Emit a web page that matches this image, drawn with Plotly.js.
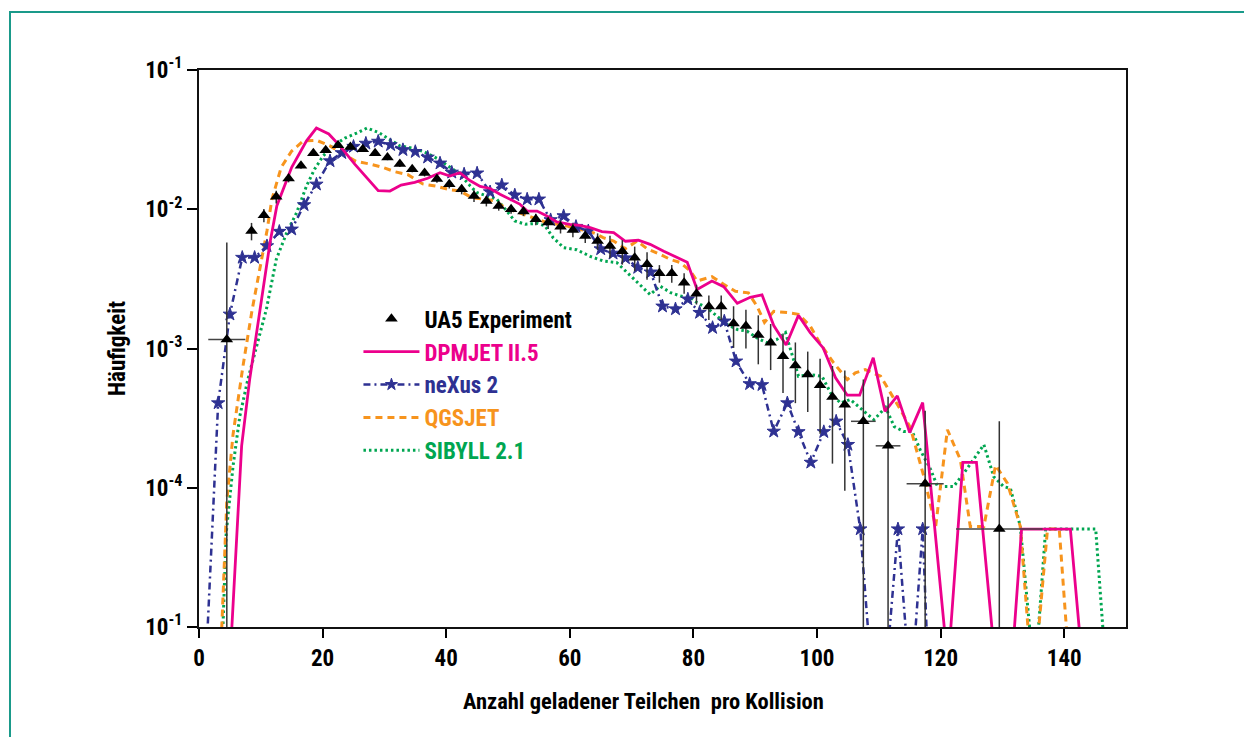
<!DOCTYPE html>
<html>
<head>
<meta charset="utf-8">
<script src="https://cdn.plot.ly/plotly-3.0.1.min.js"></script>
<style>
html,body{margin:0;padding:0;background:#fff;overflow:hidden;width:1244px;height:737px;}
#frame{position:absolute;left:9px;top:11px;width:1400px;height:900px;border:2px solid #1a9a8a;pointer-events:none;z-index:5;}
#chart{position:absolute;left:0;top:0;width:1244px;height:737px;}
</style>
</head>
<body>
<div id="chart"></div>
<div id="frame"></div>
<script>
// ---- tick labels ----
const xTickVals = [0, 20, 40, 60, 80, 100, 120, 140];
const yTickVals = [1e-1, 1e-2, 1e-3, 1e-4, 1e-5];
const yTickText = ['10<sup>-1</sup>', '10<sup>-2</sup>', '10<sup>-3</sup>', '10<sup>-4</sup>', '10<sup>-1</sup>'];
const xTitle = 'Anzahl geladener Teilchen&nbsp; pro Kollision';
const yTitle = 'Häufigkeit';

// ---- UA5 experiment ----
const ua5X = [4.5,8.5,10.5,12.5,14.5,16.5,18.5,20.5,22.5,24.5,26.5,28.5,30.5,32.5,34.5,36.5,38.5,40.5,42.5,44.5,46.5,48.5,50.5,52.5,54.5,56.5,58.5,60.5,62.5,64.5,66.5,68.5,70.5,72.5,74.5,76.5,78.5,80.5,82.5,84.5,86.5,88.5,90.5,92.5,94.5,96.5,98.5,100.5,102.5,104.5,107.5,111.5,117.5,129.5];
const ua5Y = [1.16e-3,6.98e-3,9.06e-3,0.0123,0.0166,0.0205,0.0252,0.0265,0.0288,0.028,0.027,0.0252,0.0235,0.0211,0.0194,0.0182,0.0165,0.0151,0.0139,0.01247,0.01148,0.01057,0.01,0.00962,0.00848,0.00802,0.0075,0.0071,0.00643,0.00591,0.00544,0.005,0.00449,0.00402,0.00347,0.00347,0.00297,0.00247,0.002,0.002,0.00151,0.00145,0.00125,0.0011,0.00088,0.000755,0.00065,0.000544,0.000449,0.000395,0.0003,0.0002,0.000107,5.05e-5];
const ua5YErr = [4.6e-3,1.0e-3,1.0e-3,1.3e-3,1e-3,1e-3,1e-3,1e-3,1e-3,1e-3,1e-3,1e-3,1e-3,1e-3,1e-3,1e-3,1e-3,1e-3,1.1e-3,1.2e-3,1e-3,8e-4,7e-4,7e-4,8e-4,8e-4,8e-4,8e-4,7e-4,8e-4,1e-3,1e-3,9e-4,9e-4,5e-4,5e-4,5e-4,4e-4,4e-4,4e-4,5e-4,4.5e-4,4.8e-4,4e-4,4e-4,3.5e-4,3e-4,3e-4,3e-4,3e-4,3e-4,2.5e-4,2.5e-4,2.5e-4];
const ua5XErr = [3,0,0,0,0,0,0,0,0,0,0,0,0,0,0,0,0,0,0,0,0,0,0,0,0,0,0,0,0,0,0,0,0,0,0,0,0,0,0,0,0,0,0,0,0,0,0,0,0,0,2,2,3,7];

// ---- DPMJET II.5 ----
const dpmX = [5.2,6.1,6.9,8.2,10.1,11.5,12.6,15.0,17.4,19.0,21.0,22.8,25.2,27.1,29.0,30.9,32.7,34.9,37.0,39.0,40.6,42.2,43.9,45.5,47.1,48.7,50.3,51.9,53.1,54.7,56.3,57.9,60.0,61.6,63.3,65.2,67.1,69.0,71.1,73.0,75.2,77.3,79.0,80.6,83.0,84.9,87.1,89.2,91.1,93.0,95.0,97.0,98.9,101.0,103.0,104.9,106.9,109.1,111.0,113.0,115.0,117.1,120.8,121.5,123.6,125.8,128.5,131.8,133.1,141.0,142.6];
const dpmY = [8e-6,4.7e-5,2.0e-4,6.0e-4,2.25e-3,5.8e-3,1.06e-2,2.0e-2,3.1e-2,3.83e-2,3.47e-2,2.85e-2,2.11e-2,1.69e-2,1.36e-2,1.35e-2,1.49e-2,1.56e-2,1.67e-2,1.83e-2,1.73e-2,1.83e-2,1.60e-2,1.46e-2,1.41e-2,1.28e-2,1.18e-2,1.09e-2,9.7e-3,9.7e-3,8.95e-3,8.1e-3,7.8e-3,7.67e-3,7.38e-3,6.91e-3,6.8e-3,5.89e-3,5.99e-3,5.6e-3,5.0e-3,4.49e-3,4.16e-3,2.65e-3,3.05e-3,2.78e-3,2.11e-3,2.33e-3,2.43e-3,1.46e-3,1.06e-3,1.73e-3,1.30e-3,1.01e-3,6.15e-4,4.62e-4,4.62e-4,8.57e-4,3.54e-4,4.57e-4,2.49e-4,4.09e-4,8e-6,8e-6,1.52e-4,1.52e-4,8e-6,8e-6,5.05e-5,5.05e-5,8e-6];

// ---- neXus 2 ----
const nexX = [1.3,3.1,5.0,7.0,9.0,11.0,13.0,15.0,17.0,19.0,21.2,23.1,25.0,27.0,29.0,31.0,33.0,35.0,37.0,39.0,40.9,42.9,45.0,47.1,49.0,51.1,53.1,55.0,56.9,59.0,61.0,63.0,65.0,67.0,69.0,71.0,73.1,75.0,77.1,79.1,81.0,83.1,85.0,86.9,89.1,91.1,93.0,95.2,97.0,99.0,101.1,103.1,105.0,107.0,108.4,111.6,113.1,114.5,115.8,117.1,117.8];
const nexY = [8e-6,4.06e-4,1.76e-3,4.5e-3,4.5e-3,5.45e-3,6.92e-3,7.18e-3,1.074e-2,1.51e-2,2.22e-2,2.54e-2,2.82e-2,2.97e-2,3.07e-2,2.9e-2,2.67e-2,2.59e-2,2.36e-2,2.14e-2,1.84e-2,1.786e-2,1.815e-2,1.33e-2,1.49e-2,1.262e-2,1.18e-2,1.18e-2,8.38e-3,8.95e-3,7.51e-3,6.98e-3,5.18e-3,4.82e-3,4.46e-3,3.81e-3,3.53e-3,2.01e-3,1.92e-3,2.26e-3,1.81e-3,1.41e-3,1.57e-3,8.1e-4,5.57e-4,5.48e-4,2.54e-4,4.06e-4,2.52e-4,1.52e-4,2.52e-4,3.0e-4,2.04e-4,5.05e-5,8e-6,8e-6,5.05e-5,8e-6,8e-6,5.05e-5,8e-6];

// ---- QGSJET ----
const qgsX = [3.6,4.0,4.5,5.5,7.1,8.6,10.0,11.0,11.8,13.3,15.0,16.9,19.0,21.2,23.3,25.4,27.7,29.7,31.7,33.8,36.2,38.5,40.6,42.2,44.1,46.0,47.9,49.5,51.4,53.0,54.7,56.3,57.9,59.5,61.1,62.8,64.4,65.4,67.1,69.0,70.9,72.5,74.6,76.3,77.9,79.5,80.6,83.0,84.9,86.8,88.9,90.3,91.5,93.0,95.2,97.0,98.9,100.6,102.7,104.9,106.2,107.8,110.3,111.9,113.5,115.1,117.3,119.2,121.1,123.2,124.8,127.0,128.9,130.8,132.9,134.3,135.7,137.3,139.2,140.5];
const qgsY = [8e-6,2.5e-5,8e-5,2.4e-4,7.4e-4,1.9e-3,4.0e-3,7.0e-3,1.18e-2,2.0e-2,2.62e-2,3.1e-2,3.13e-2,2.85e-2,2.49e-2,2.21e-2,2.11e-2,2.0e-2,1.86e-2,1.77e-2,1.52e-2,1.46e-2,1.38e-2,1.355e-2,1.214e-2,1.18e-2,1.148e-2,1.028e-2,9.57e-3,8.95e-3,8.48e-3,8.02e-3,7.8e-3,7.59e-3,7.18e-3,7.06e-3,6.6e-3,6.25e-3,5.91e-3,5.21e-3,5.91e-3,5.21e-3,4.74e-3,4.36e-3,4.14e-3,3.6e-3,3.05e-3,3.28e-3,2.89e-3,2.58e-3,2.51e-3,2.01e-3,1.54e-3,1.85e-3,1.81e-3,1.76e-3,1.45e-3,1.07e-3,7.88e-4,5.98e-4,6.68e-4,7.06e-4,6.32e-4,4.8e-4,3.64e-4,2.7e-4,1.2e-4,5.27e-5,2.61e-4,1.59e-4,5.27e-5,5.27e-5,1.45e-4,1.08e-4,5.27e-5,8e-6,8e-6,5.05e-5,5.05e-5,8e-6];

// ---- SIBYLL 2.1 ----
const sibX = [3.8,4.4,5.5,6.6,7.9,9.3,10.9,12.5,14.2,15.8,17.4,18.7,20.1,21.7,23.6,25.5,27.2,29.1,30.7,32.5,34.5,36.4,38.5,40.3,42.0,43.9,44.9,46.6,48.2,49.8,51.1,52.8,54.7,56.0,57.3,59.0,61.1,63.3,65.4,67.6,69.2,70.9,73.0,74.6,76.3,77.9,79.5,80.6,82.2,83.8,85.4,87.1,88.7,90.3,91.9,93.5,94.9,96.2,97.0,98.9,100.8,102.2,103.8,105.4,107.3,109.2,111.1,112.5,114.0,115.4,116.7,118.4,119.5,122.1,123.8,127.0,128.6,130.2,131.3,132.9,134.6,135.7,137.0,145.1,146.4];
const sibY = [8e-6,4.7e-5,1.42e-4,3.26e-4,5.98e-4,1.04e-3,1.91e-3,4.36e-3,6.79e-3,9.46e-3,1.47e-2,1.94e-2,2.42e-2,2.85e-2,3.24e-2,3.52e-2,3.83e-2,3.55e-2,3.19e-2,2.85e-2,2.75e-2,2.59e-2,2.32e-2,2.05e-2,1.82e-2,1.47e-2,1.32e-2,1.247e-2,1.18e-2,9.72e-3,8.24e-3,7.8e-3,7.93e-3,7.59e-3,6.25e-3,5.3e-3,5.12e-3,4.59e-3,4.25e-3,4.14e-3,3.55e-3,2.97e-3,2.44e-3,2.81e-3,2.52e-3,2.38e-3,2.32e-3,2.13e-3,1.96e-3,1.71e-3,1.49e-3,1.37e-3,1.33e-3,1.19e-3,1.10e-3,1.16e-3,1.30e-3,8.34e-4,6.32e-4,6.5e-4,6.32e-4,4.8e-4,4.06e-4,4.3e-4,3.64e-4,3.08e-4,3.77e-4,2.75e-4,2.54e-4,2.54e-4,1.87e-4,1.35e-4,1.02e-4,1.02e-4,1.28e-4,2.04e-4,1.2e-4,1.02e-4,9.9e-5,5.27e-5,8e-6,8e-6,5.05e-5,5.05e-5,8e-6];

const FONT = 'Roboto Condensed, Open Sans Condensed, Liberation Sans Narrow, sans-serif';
const C_DPM = '#ec008c', C_NEX = '#2e3192', C_QGS = '#f7941d', C_SIB = '#00a651';

const traces = [
  {x: sibX, y: sibY, mode: 'lines', name: '<span style="color:' + C_SIB + '">SIBYLL 2.1</span>',
   line: {color: C_SIB, width: 3, dash: '2.5px,3px'}, legendrank: 5},
  {x: qgsX, y: qgsY, mode: 'lines', name: '<span style="color:' + C_QGS + '">QGSJET</span>',
   line: {color: C_QGS, width: 3, dash: '7px,5px'}, legendrank: 4},
  {x: nexX, y: nexY, mode: 'lines+markers', name: '<span style="color:' + C_NEX + '">neXus 2</span>',
   line: {color: C_NEX, width: 2.5, dash: '7px,4px,2px,4px'},
   marker: {symbol: 'star', color: C_NEX, opacity: 1, size: nexY.map(v => v < 1e-5 ? 0 : 10),
            line: {width: 1, color: C_NEX}},
   legendrank: 3},
  {x: dpmX, y: dpmY, mode: 'lines', name: '<span style="color:' + C_DPM + '">DPMJET II.5</span>',
   line: {color: C_DPM, width: 2.8}, legendrank: 2},
  {x: ua5X, y: ua5Y, mode: 'markers', name: 'UA5 Experiment',
   marker: {symbol: 'triangle-up', color: '#000', size: 11},
   error_y: {type: 'data', array: ua5YErr, visible: true, color: '#333', thickness: 1.5, width: 0},
   error_x: {type: 'data', array: ua5XErr, visible: true, color: '#444', thickness: 1.5, width: 0},
   legendrank: 1}
];

const layout = {
  width: 1244, height: 737,
  margin: {l: 199, r: 118, t: 70, b: 110, pad: 0},
  paper_bgcolor: 'rgba(0,0,0,0)',
  plot_bgcolor: '#fff',
  font: {family: FONT, size: 23, color: '#000', weight: 'bold'},
  showlegend: true,
  legend: {x: 0.172, y: 0.592, xanchor: 'left', yanchor: 'top', bgcolor: 'rgba(0,0,0,0)',
           font: {family: FONT, size: 23, color: '#000', weight: 'bold'}, itemwidth: 56, tracegroupgap: 0},
  xaxis: {
    range: [0, 150], tickvals: xTickVals, ticktext: xTickVals.map(String),
    ticks: 'outside', ticklen: 9, tickwidth: 2, tickcolor: '#000',
    showline: true, linewidth: 2, linecolor: '#111', mirror: true,
    showgrid: false, zeroline: false,
    tickfont: {family: FONT, size: 23, weight: 'bold'}
  },
  yaxis: {
    type: 'log', range: [-5, -1], tickvals: yTickVals, ticktext: yTickText,
    ticks: 'outside', ticklen: 10, tickwidth: 2, tickcolor: '#000',
    showline: true, linewidth: 2, linecolor: '#111', mirror: true,
    showgrid: false, zeroline: false,
    tickfont: {family: FONT, size: 23, weight: 'bold'},
    title: {text: yTitle, standoff: 13, font: {family: FONT, size: 23, weight: 'bold'}}
  },
  annotations: [{
    text: xTitle, xref: 'paper', yref: 'paper', x: 0.479, y: -0.133,
    xanchor: 'center', yanchor: 'middle', showarrow: false,
    font: {family: FONT, size: 22.5, weight: 'bold', color: '#000'}
  }]
};

Plotly.newPlot('chart', traces, layout, {displayModeBar: false, staticPlot: true});
</script>
</body>
</html>
